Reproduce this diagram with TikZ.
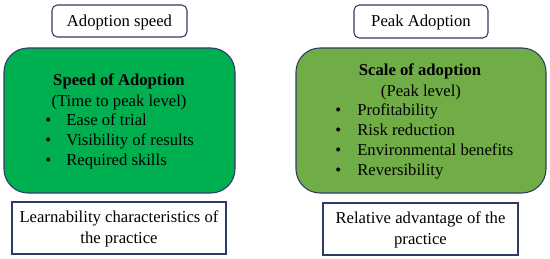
\documentclass[tikz,border=0pt]{standalone}
\usepackage{fontspec}
\setmainfont{Liberation Serif}
\definecolor{navy}{HTML}{2F3B66}
\definecolor{gA}{HTML}{00B050}
\definecolor{gB}{HTML}{70AD47}
\begin{document}
\begin{tikzpicture}[x=0.75pt,y=-0.75pt,
  hdr/.style={draw=navy,line width=0.8pt,rounded corners=4pt,fill=white},
  greenbox/.style={draw=navy,line width=0.8pt,rounded corners=18pt},
  footbox/.style={draw=navy,line width=0.8pt,fill=white},
  txt/.style={font=\fontsize{12.5}{15.5}\selectfont,inner sep=0pt},
  bul/.style={font=\fontsize{12.5}{15.5}\selectfont,inner sep=0pt,anchor=base west},
]
\useasboundingbox (0,0) rectangle (550,259);
% headers
\draw[hdr] (52,5) rectangle (187,37);
\node[txt] (h1) at (119.5,22) {Adoption speed};
\draw[hdr] (354,5) rectangle (488,38);
\node[txt] (h2) at (421,22) {Peak Adoption};
% green boxes
\draw[greenbox,fill=gA] (4,48) rectangle (235,193);
\draw[greenbox,fill=gB] (296,48) rectangle (546,193);
% left content
\node[txt] (t1) at (119,81) {\textbf{Speed of Adoption}};
\node[txt] (s1) at (119,102) {(Time to peak level)};
\node[bul] (b11) at (45,126) {\textbullet};
\node[bul] (i11) at (66,126) {Ease of trial};
\node[bul] (b12) at (45,146) {\textbullet};
\node[bul] (i12) at (66,146) {Visibility of results};
\node[bul] (b13) at (45,166) {\textbullet};
\node[bul] (i13) at (66,166) {Required skills};
% right content
\node[txt] (t2) at (420,71) {\textbf{Scale of adoption}};
\node[txt] (s2) at (421,92) {(Peak level)};
\node[bul] (b21) at (335,116) {\textbullet};
\node[bul] (i21) at (357,116) {Profitability};
\node[bul] (b22) at (335,136) {\textbullet};
\node[bul] (i22) at (357,136) {Risk reduction};
\node[bul] (b23) at (335,156) {\textbullet};
\node[bul] (i23) at (357,156) {Environmental benefits};
\node[bul] (b24) at (335,176) {\textbullet};
\node[bul] (i24) at (357,176) {Reversibility};
% footers
\draw[footbox] (12,202) rectangle (226,254);
\node[txt,align=center] (f1) at (119,229) {Learnability characteristics of\\the practice};
\draw[footbox] (323,203) rectangle (518,255);
\node[txt,align=center] (f2) at (420.5,230) {Relative advantage of the\\practice};
\end{tikzpicture}
\end{document}
